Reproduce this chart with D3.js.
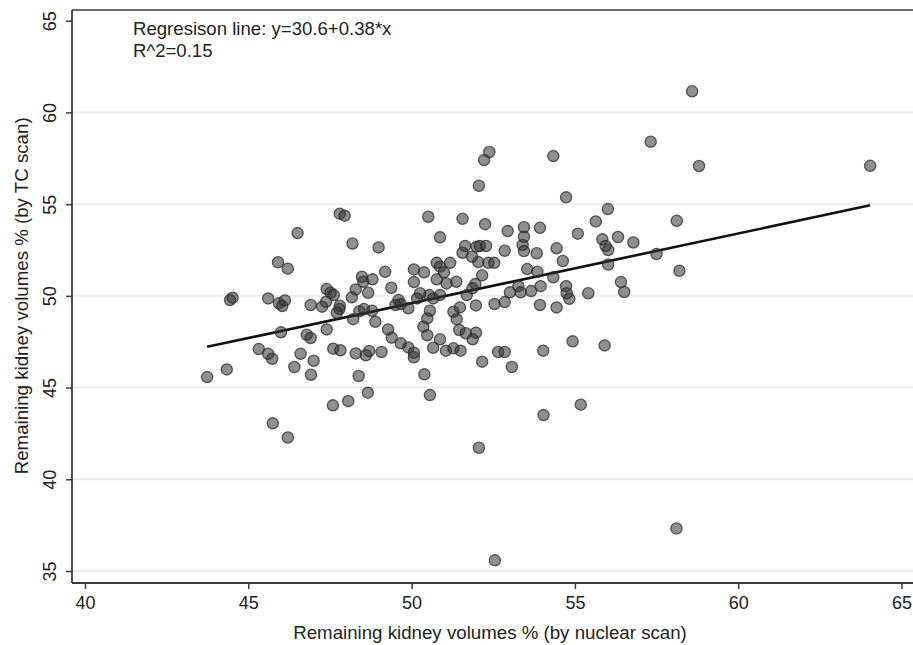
<!DOCTYPE html>
<html>
<head>
<meta charset="utf-8">
<script src="https://cdn.jsdelivr.net/npm/d3@7"></script>
<style>
  html, body { margin: 0; padding: 0; background: #fff; }
  svg text { font-family: "Liberation Sans", Arial, sans-serif; fill: #222; }
</style>
</head>
<body>
<div id="chart"></div>
<script>
// Remaining kidney volume: nuclear scan (x) vs TC scan (y), with OLS fit.
const nuclear = [
  48.19, 45.91, 46.21, 44.44, 44.52, 45.61, 45.94, 46.04, 46.12, 46.91,
  47.26, 47.38, 47.40, 47.52, 47.62, 47.80, 47.79, 47.71, 48.29, 48.17,
  48.40, 48.21, 46.00, 46.79, 46.91, 47.40, 45.32, 45.61, 45.73, 46.60,
  47.00, 46.41, 46.92, 47.60, 47.82, 48.29, 48.38, 44.34, 43.74, 47.59,
  48.06, 45.75, 46.21, 47.80, 47.95, 46.51,
  48.99, 51.64, 51.56, 51.99, 52.09, 52.28, 52.85, 51.85, 52.04, 52.35,
  52.53, 48.48, 48.52, 48.80, 49.19, 48.67, 49.38, 50.07, 50.38, 50.07,
  50.77, 50.87, 51.18, 50.99, 50.77, 51.07, 51.37, 52.16, 51.95, 51.86,
  51.69, 51.97, 52.54, 52.85, 53.01, 53.27, 50.87, 50.54, 50.66, 50.26,
  50.17, 49.60, 49.67, 49.51, 49.90, 48.54, 48.79, 48.89, 50.56, 50.48,
  50.36, 50.48, 50.87, 50.66, 51.28, 51.48, 51.38, 51.46, 51.66, 51.97,
  51.87, 49.28, 49.39, 49.67, 49.90, 50.07, 50.07, 51.05, 51.28, 51.50,
  48.60, 48.70, 49.08, 52.16, 52.65, 52.85, 53.07, 50.39, 48.66, 50.56,
  52.38, 52.22, 52.06, 50.51, 51.56, 52.25, 50.87,
  53.40, 53.44, 53.83, 54.44, 54.63, 53.54, 53.85, 54.34, 53.34, 53.66,
  53.95, 53.93, 54.44, 54.73, 54.75, 54.83, 55.41, 55.84, 55.94, 56.02,
  56.32, 56.79, 56.02, 57.50, 58.20, 56.41, 56.51, 54.03, 54.93, 55.91,
  57.32, 54.34, 54.73, 56.01, 55.64, 52.94, 53.44, 53.44, 53.93, 55.09,
  58.59, 58.80, 64.04, 58.12,
  52.06, 54.04, 55.18, 58.11, 52.55
];
const tcScan = [
  52.85, 51.83, 51.48, 49.77, 49.90, 49.86, 49.59, 49.44, 49.75, 49.50,
  49.41, 49.68, 50.37, 50.17, 50.04, 49.46, 49.28, 49.08, 50.35, 49.92,
  49.16, 48.73, 48.01, 47.88, 47.70, 48.17, 47.10, 46.84, 46.57, 46.84,
  46.46, 46.12, 45.70, 47.12, 47.03, 46.86, 45.63, 45.99, 45.57, 44.03,
  44.26, 43.05, 42.28, 54.48, 54.37, 53.42,
  52.64, 52.72, 52.35, 52.68, 52.72, 52.72, 52.46, 52.13, 51.84, 51.80,
  51.80, 51.04, 50.77, 50.90, 51.31, 50.17, 50.44, 51.44, 51.28, 50.75,
  51.80, 51.59, 51.80, 51.28, 50.90, 50.68, 50.77, 51.12, 50.64, 50.41,
  50.04, 49.48, 49.55, 49.66, 50.19, 50.53, 50.04, 50.04, 49.86, 50.14,
  49.86, 49.77, 49.55, 49.50, 49.32, 49.28, 49.19, 48.59, 49.19, 48.77,
  48.32, 47.85, 47.63, 47.17, 49.13, 49.37, 48.73, 48.14, 47.96, 47.99,
  47.63, 48.17, 47.72, 47.41, 47.19, 46.90, 46.65, 47.01, 47.14, 47.01,
  46.76, 46.99, 46.94, 46.41, 46.94, 46.94, 46.12, 45.72, 44.72, 44.59,
  57.84, 57.40, 56.00, 54.31, 54.20, 53.91, 53.19,
  52.77, 52.44, 52.32, 52.59, 51.90, 51.46, 51.31, 51.01, 50.19, 50.26,
  50.53, 49.50, 49.37, 50.53, 50.14, 49.84, 50.14, 53.08, 52.72, 52.50,
  53.21, 52.91, 51.71, 52.28, 51.37, 50.75, 50.21, 47.01, 47.52, 47.30,
  58.40, 57.62, 55.37, 54.73, 54.06, 53.53, 53.74, 53.22, 53.71, 53.39,
  61.15, 57.08, 57.09, 54.09,
  41.72, 43.50, 44.07, 37.32, 35.58
];
const xTicks = [40, 45, 50, 55, 60, 65];
const yTicks = [35, 40, 45, 50, 55, 60, 65];
const gridTicks = [35, 40, 45, 50, 55, 60];
const fitIntercept = 30.6;
const fitSlope = 0.38;
const noteLines = ['Regresison line: y=30.6+0.38*x', 'R^2=0.15'];

const width = 913, height = 645;
const box = { left: 72, top: 10, right: 913, bottom: 583 };

const x = d3.scaleLinear().domain([40, 65]).range([85, 901.5]);
const y = d3.scaleLinear().domain([35, 65]).range([571, 20.7]);

const svg = d3.select('#chart').append('svg')
  .attr('width', width).attr('height', height);

// grid lines
svg.append('g').selectAll('line').data(gridTicks).join('line')
  .attr('x1', box.left + 1).attr('x2', box.right)
  .attr('y1', d => y(d)).attr('y2', d => y(d))
  .attr('stroke', '#e6eef2').attr('stroke-width', 2);

// frame: top line, left axis, bottom axis
svg.append('line').attr('x1', box.left).attr('x2', box.right)
  .attr('y1', box.top).attr('y2', box.top)
  .attr('stroke', '#3a3a3a').attr('stroke-width', 1.6);
svg.append('line').attr('x1', box.left).attr('x2', box.left)
  .attr('y1', box.top).attr('y2', box.bottom)
  .attr('stroke', '#3a3a3a').attr('stroke-width', 1.8);
svg.append('line').attr('x1', box.left).attr('x2', box.right)
  .attr('y1', box.bottom).attr('y2', box.bottom)
  .attr('stroke', '#3a3a3a').attr('stroke-width', 1.8);

// x axis ticks
const gx = svg.append('g').attr('transform', `translate(0,${box.bottom})`)
  .call(d3.axisBottom(x).tickValues(xTicks).tickSize(6).tickPadding(7));
gx.select('.domain').remove();
gx.selectAll('line').attr('stroke', '#3a3a3a').attr('stroke-width', 1.5);
gx.selectAll('text').attr('font-size', '18px').attr('fill', '#222')
  .attr('font-family', '"Liberation Sans", Arial, sans-serif');

// y axis ticks, labels turned vertical
const gy = svg.append('g').attr('transform', `translate(${box.left},0)`)
  .call(d3.axisLeft(y).tickValues(yTicks).tickSize(6));
gy.select('.domain').remove();
gy.selectAll('line').attr('stroke', '#3a3a3a').attr('stroke-width', 1.5);
gy.selectAll('text')
  .attr('font-size', '18px').attr('fill', '#222')
  .attr('font-family', '"Liberation Sans", Arial, sans-serif')
  .attr('x', null).attr('dy', null)
  .attr('text-anchor', 'middle')
  .attr('transform', 'translate(-16,0) rotate(-90)');

// axis titles
svg.append('text')
  .attr('x', 490).attr('y', 639)
  .attr('text-anchor', 'middle').attr('font-size', '18.7px')
  .text('Remaining kidney volumes % (by nuclear scan)');
svg.append('text')
  .attr('transform', `translate(28,${y(50)}) rotate(-90)`)
  .attr('text-anchor', 'middle').attr('font-size', '18.7px')
  .text('Remaining kidney volumes % (by TC scan)');

// regression line across the data range
const xr = d3.extent(nuclear);
svg.append('line')
  .attr('x1', x(xr[0])).attr('y1', y(fitIntercept + fitSlope * xr[0]))
  .attr('x2', x(xr[1])).attr('y2', y(fitIntercept + fitSlope * xr[1]))
  .attr('stroke', '#111').attr('stroke-width', 2.6);

// scatter points
const pts = nuclear.map((v, i) => ({ nx: v, ty: tcScan[i] }));
svg.append('g').selectAll('circle').data(pts).join('circle')
  .attr('cx', d => x(d.nx)).attr('cy', d => y(d.ty))
  .attr('r', 5.6)
  .attr('fill', '#333').attr('fill-opacity', 0.55)
  .attr('stroke', '#2a2a2a').attr('stroke-opacity', 0.75).attr('stroke-width', 1.3);

// annotation
svg.append('g').selectAll('text').data(noteLines).join('text')
  .attr('x', 133).attr('y', (d, i) => 35 + i * 22)
  .attr('font-size', '18.6px')
  .text(d => d);
</script>
</body>
</html>
